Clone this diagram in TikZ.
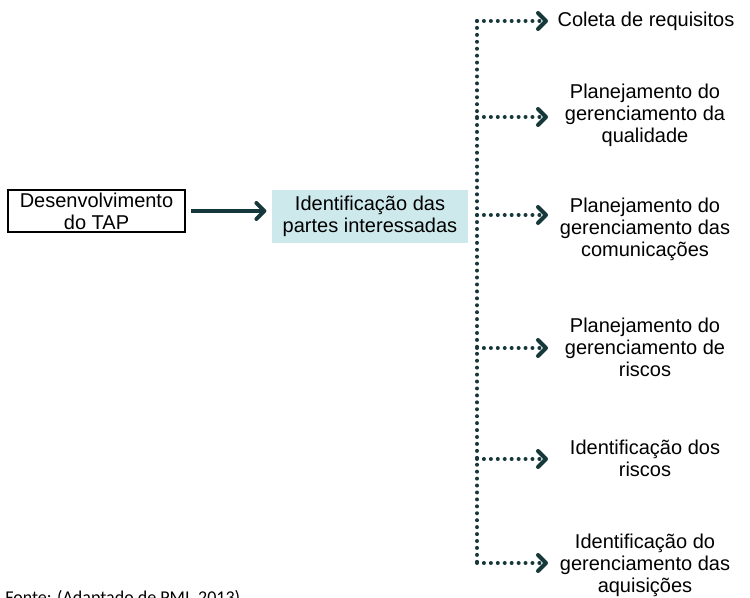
\documentclass[tikz,border=0pt]{standalone}
\usepackage{fontspec}
\setmainfont{Liberation Sans}
\newfontfamily\notefont{Carlito}
\usetikzlibrary{arrows.meta}
\definecolor{inkteal}{HTML}{17383A}
\definecolor{paleblue}{HTML}{CDE9EC}
\begin{document}
\begin{tikzpicture}[x=0.75pt,y=-0.75pt,
  every node/.style={font=\fontsize{15pt}{16.5pt}\selectfont, align=center, inner sep=0pt},
  plainbox/.style={draw=black, line width=1.5pt, minimum width=132.75pt, minimum height=31.5pt},
  bluebox/.style={fill=paleblue, minimum width=147pt, minimum height=39.75pt},
  mainarrow/.style={draw=inkteal, line width=3pt,
    -{Straight Barb[length=6pt, width=12pt, line width=3pt, line cap=round, line join=round]}},
  spine/.style={draw=inkteal, line width=3pt, line cap=round, dash pattern=on 0pt off 5.2pt},
  branch/.style={spine,
    -{Straight Barb[length=6pt, width=12pt, line width=3pt, line cap=round, line join=round]}},
  label/.style={text=black}]
  \useasboundingbox (0,0) rectangle (750,598);

  % source and stakeholder boxes
  \node[plainbox] (tap) at (96.5,211) {Desenvolvimento\\do TAP};
  \node[bluebox] (id) at (370,216.5) {Identificação das\\partes interessadas};
  \draw[mainarrow] ([xshift=4pt]tap.east) -- ([xshift=-4pt]tap.east -| id.west);

  % branch points on the dotted distribution line
  \coordinate (b1) at (477,21);
  \coordinate (b2) at (477,117);
  \coordinate (b3) at (477,215);
  \coordinate (b4) at (477,348);
  \coordinate (b5) at (477,459);
  \coordinate (b6) at (477,563);
  \coordinate (tipx) at (548,0);

  % dotted distribution line
  \draw[spine] (b1) -- (b6);

  % process labels
  \node[label] (l1) at (646,21) {Coleta de requisitos};
  \node[label] (l2) at (645,115) {Planejamento do\\gerenciamento da\\qualidade};
  \node[label] (l3) at (645,229) {Planejamento do\\gerenciamento das\\comunicações};
  \node[label] (l4) at (645,347) {Planejamento do\\gerenciamento de\\riscos};
  \node[label] (l5) at (645,458) {Identificação dos\\riscos};
  \node[label] (l6) at (645,565) {Identificação do\\gerenciamento das\\aquisições};

  \foreach \b in {b1,b2,b3,b4,b5,b6}
    \draw[branch] (\b) -- (\b -| tipx);

  % source note
  \node[anchor=base west, font=\notefont\fontsize{13.5pt}{15pt}\selectfont] (note) at (5,603) {Fonte: (Adaptado de PMI, 2013)};
\end{tikzpicture}
\end{document}
